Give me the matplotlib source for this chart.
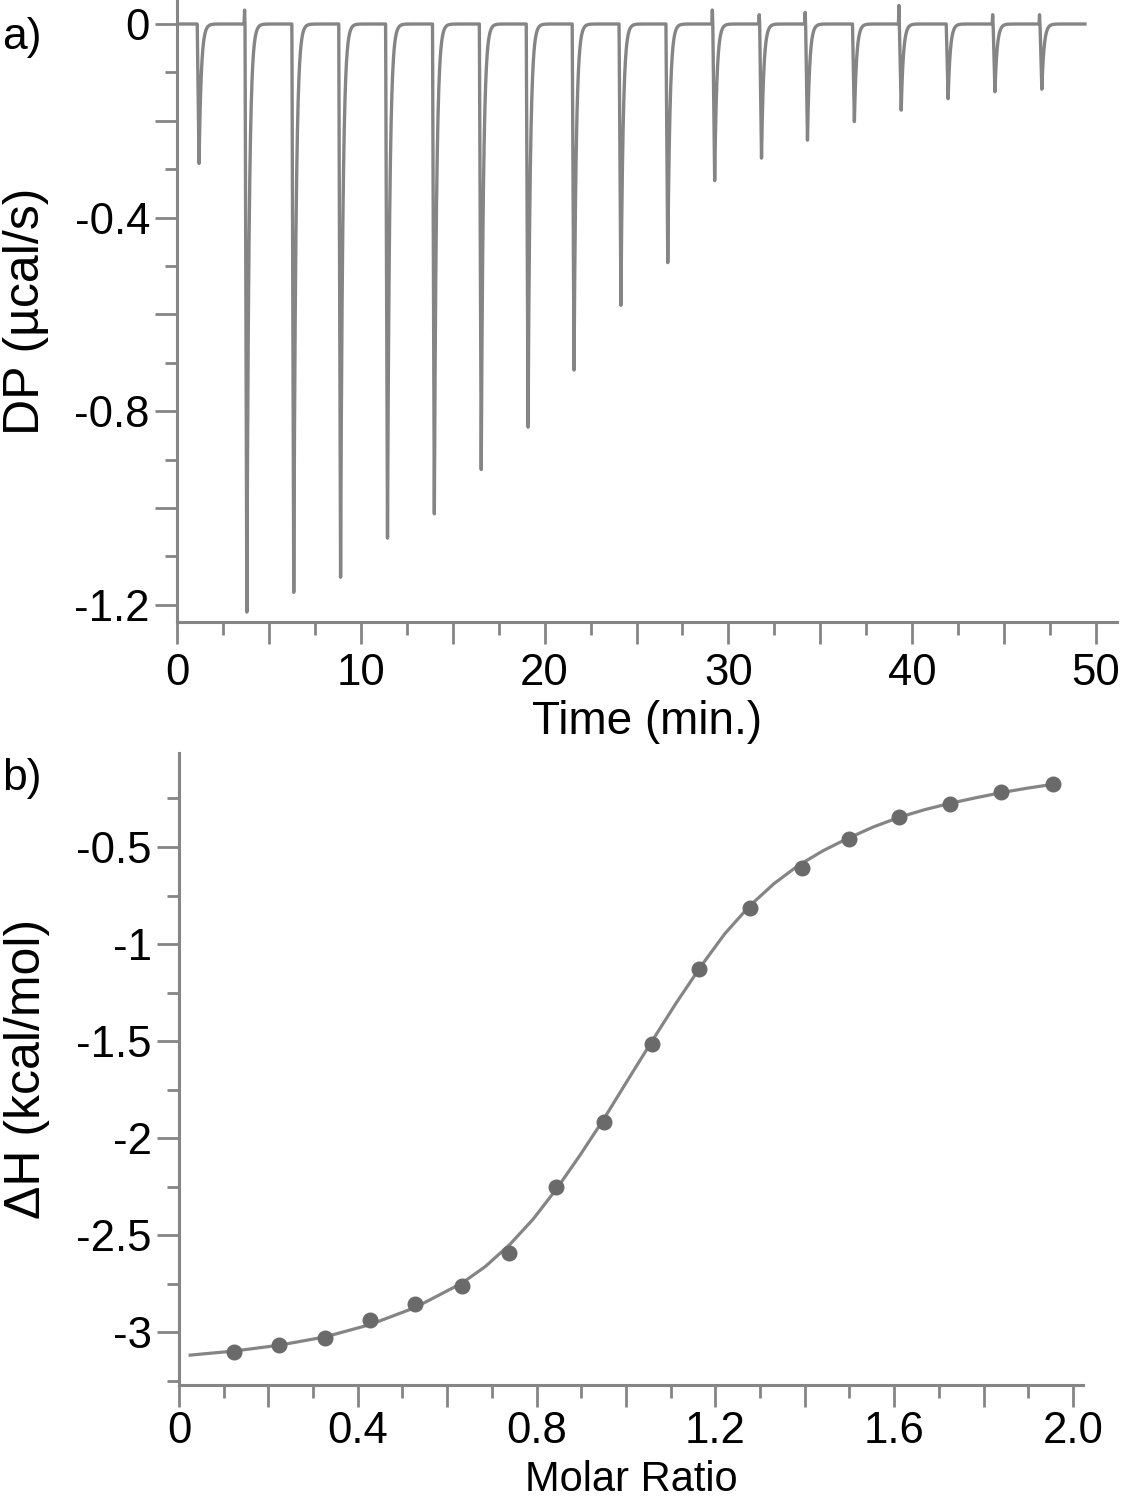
import numpy as np
import matplotlib
matplotlib.use('Agg')
import matplotlib.pyplot as plt
from matplotlib.ticker import MultipleLocator, FuncFormatter

plt.rcParams['font.family'] = ['Liberation Sans', 'DejaVu Sans']
plt.rcParams['axes.unicode_minus'] = False

# --- a) raw thermogram: injection times (min) and peak heights (ucal/s)
inj_time = [1.10, 3.70, 6.25, 8.80, 11.35, 13.90, 16.45, 19.00, 21.50, 24.05,
            26.60, 29.15, 31.70, 34.20, 36.75, 39.30, 41.85, 44.40, 46.95]
peak_dp = [-0.288, -1.215, -1.194, -1.143, -1.080, -1.012, -0.936, -0.833, -0.715, -0.591,
           -0.493, -0.329, -0.277, -0.240, -0.205, -0.178, -0.157, -0.140, -0.137]
blip_dp = [0.0, 0.03, 0.0, 0.0, 0.0, 0.0, 0.0, 0.0, 0.0, 0.0,
           0.0, 0.03, 0.02, 0.025, 0.0, 0.04, 0.0, 0.02, 0.02]
run_end = 49.4

# --- b) integrated heats and fitted curve
molar_ratio = [0.123, 0.224, 0.327, 0.427, 0.528, 0.633, 0.738, 0.843, 0.951,
               1.058, 1.163, 1.277, 1.394, 1.499, 1.611, 1.725, 1.839, 1.955]
delta_h = [-3.103, -3.067, -3.031, -2.938, -2.856, -2.763, -2.593, -2.253, -1.918,
           -1.515, -1.129, -0.814, -0.608, -0.459, -0.345, -0.278, -0.216, -0.175]
fit_ratio = [0.025, 0.123, 0.224, 0.327, 0.427, 0.528, 0.633, 0.685, 0.740, 0.792,
             0.846, 0.897, 0.949, 1.004, 1.058, 1.112, 1.166, 1.221, 1.277, 1.331,
             1.385, 1.441, 1.494, 1.553, 1.611, 1.669, 1.725, 1.783, 1.839, 1.897, 1.955]
fit_dh = [-3.119, -3.098, -3.068, -3.025, -2.962, -2.874, -2.748, -2.663, -2.549, -2.419,
          -2.258, -2.089, -1.907, -1.701, -1.501, -1.305, -1.120, -0.947, -0.803, -0.689,
          -0.596, -0.519, -0.458, -0.397, -0.347, -0.307, -0.275, -0.246, -0.220, -0.197, -0.177]

GREY = '#858585'
W, H = 1138, 1500

# build the trace from the peak table
t = np.arange(0, run_end, 0.004)
dp = np.zeros_like(t)
for t0, pk, bl in zip(inj_time, peak_dp, blip_dp):
    rise = (t >= t0 - 0.05) & (t < t0)
    dp[rise] += bl * (1 - np.abs(t[rise] - (t0 - 0.025)) / 0.025)
    down = (t >= t0) & (t < t0 + 0.1)
    dp[down] += pk * (t[down] - t0) / 0.1
    up = t >= t0 + 0.1
    dp[up] += pk * np.exp(-(t[up] - t0 - 0.1) / 0.12)

fig = plt.figure(figsize=(W / 100, H / 100), dpi=100)

def style(ax):
    for s in ['top', 'right']:
        ax.spines[s].set_visible(False)
    for s in ['left', 'bottom']:
        ax.spines[s].set_color(GREY)
        ax.spines[s].set_linewidth(2.2)
    ax.tick_params(which='major', direction='out', length=15.5, width=2, color=GREY,
                   labelsize=31.5, pad=4)
    ax.tick_params(which='minor', direction='out', length=9, width=2, color=GREY)

ax1 = fig.add_axes([177 / W, 1 - 622 / H, 940 / W, 622 / H])
ax1.plot(t, dp, color=GREY, lw=2.4)
ax1.set_xlim(0, 51.14)
ax1.set_ylim(-1.2355, 0.0496)
style(ax1)
ax1.xaxis.set_major_locator(MultipleLocator(5))
ax1.xaxis.set_minor_locator(MultipleLocator(2.5))
ax1.yaxis.set_major_locator(MultipleLocator(0.2))
ax1.yaxis.set_minor_locator(MultipleLocator(0.1))
ax1.xaxis.set_major_formatter(FuncFormatter(lambda v, p: f'{v:.0f}' if abs(v / 10 - round(v / 10)) < 1e-6 else ''))
def ylab1(v, p):
    if abs(v) < 1e-9:
        return '0'
    return f'{v:.1f}' if abs(v / 0.4 - round(v / 0.4)) < 1e-6 else ''
ax1.yaxis.set_major_formatter(FuncFormatter(ylab1))
ax1.tick_params(axis='x', pad=7)
ax1.set_xlabel('Time (min.)', fontsize=33)
ax1.set_ylabel('DP (\u00b5cal/s)', fontsize=36)
ax1.xaxis.set_label_coords(0.5, -0.126)
ax1.yaxis.set_label_coords(-0.136, 0.5)

ax2 = fig.add_axes([179 / W, 1 - 1385 / H, 904 / W, 632 / H])
ax2.plot(fit_ratio, fit_dh, color=GREY, lw=2.3, zorder=2)
ax2.plot(molar_ratio, delta_h, 'o', ms=10.5, color='#6a6a6a', zorder=3)
ax2.set_xlim(0, 2.0224)
ax2.set_ylim(-3.273, -0.0155)
style(ax2)
ax2.xaxis.set_major_locator(MultipleLocator(0.2))
ax2.xaxis.set_minor_locator(MultipleLocator(0.1))
ax2.yaxis.set_major_locator(MultipleLocator(0.5))
ax2.yaxis.set_minor_locator(MultipleLocator(0.25))
def xlab2(v, p):
    if abs(v) < 1e-9:
        return '0'
    return f'{v:.1f}' if abs(v / 0.4 - round(v / 0.4)) < 1e-6 else ''
ax2.xaxis.set_major_formatter(FuncFormatter(xlab2))
ax2.yaxis.set_major_formatter(FuncFormatter(lambda v, p: f'{v:g}'))
ax2.tick_params(axis='x', pad=3)
ax2.set_xlabel('Molar Ratio', fontsize=30)
ax2.set_ylabel('\u0394H (kcal/mol)', fontsize=36)
ax2.xaxis.set_label_coords(0.5, -0.1185)
ax2.yaxis.set_label_coords(-0.143, 0.5)

fig.text(2 / W, 1 - 38 / H, 'a)', fontsize=32, va='center', ha='left')
fig.text(2 / W, 1 - 778 / H, 'b)', fontsize=32, va='center', ha='left')

fig.savefig('out.png', dpi=100)
